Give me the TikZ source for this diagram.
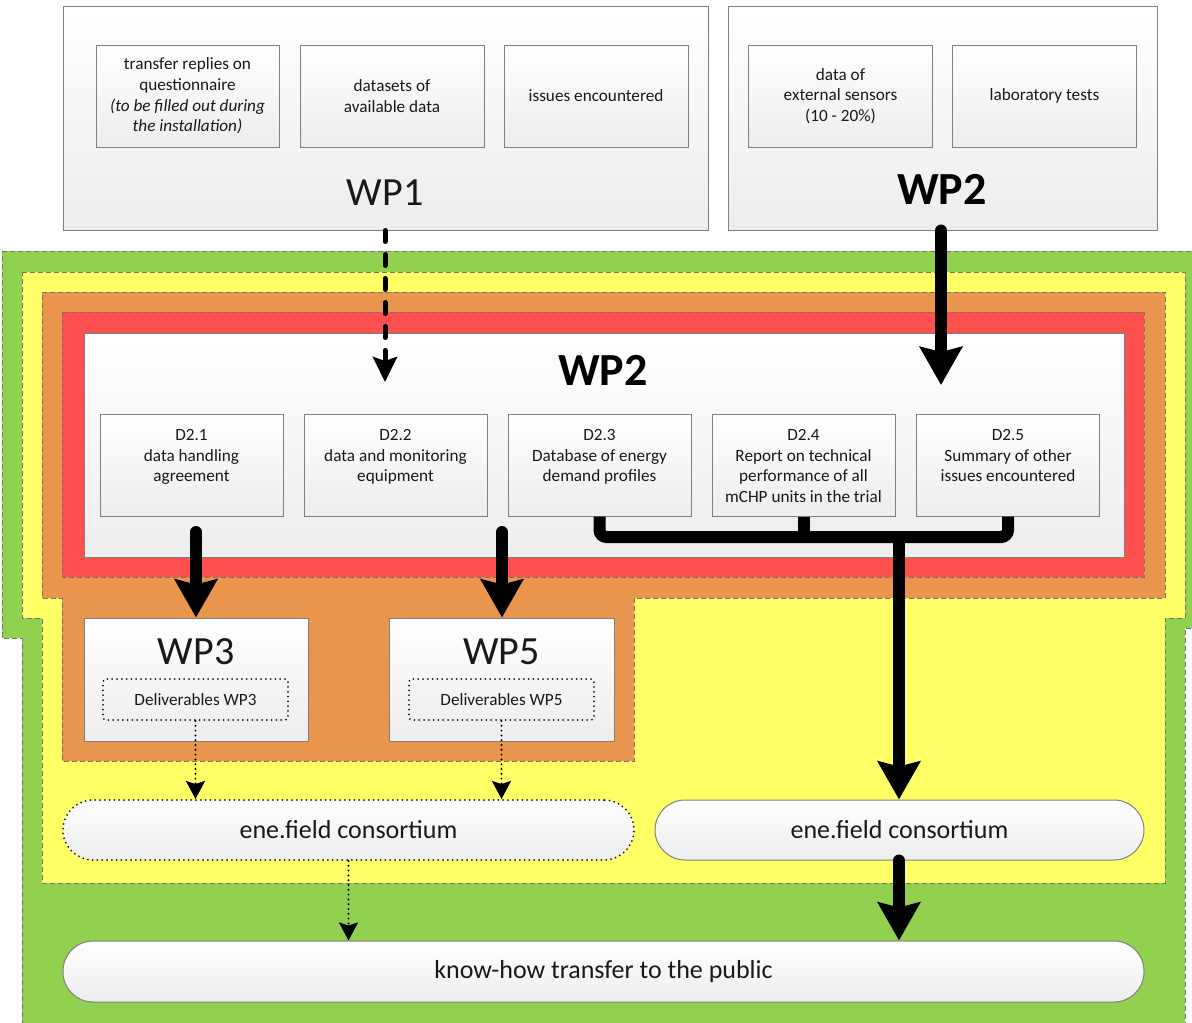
\documentclass[tikz,border=0pt]{standalone}
\usepackage{fontspec}
\setmainfont{Carlito}
\usetikzlibrary{arrows.meta}
\definecolor{cgreen}{RGB}{146,208,80}
\definecolor{cyellow}{RGB}{255,255,102}
\definecolor{corange}{RGB}{233,149,78}
\definecolor{cred}{RGB}{255,80,80}
\definecolor{ctext}{RGB}{25,25,25}
\begin{document}
\begin{tikzpicture}[x=1pt,y=-1pt,
  region/.style={draw=black!55, line width=0.9pt, dash pattern=on 5pt off 3pt},
  box/.style={draw=black!50, line width=1pt, top color=white, bottom color=black!7, inner sep=0pt, text=ctext},
  smalltxt/.style={font=\fontsize{17.2}{20.7}\selectfont, align=center, text=ctext, inner sep=0pt},
  bigtitle/.style={font=\fontsize{40}{44}\selectfont, text=ctext, inner sep=0pt},
  boldtitle/.style={font=\fontsize{46}{50}\selectfont\bfseries, text=black, inner sep=0pt},
  dbox/.style={box, minimum width=183pt, minimum height=102pt},
  pill/.style={box, rounded corners=30pt, minimum height=60pt},
  delbox/.style={draw=ctext, line width=2pt, dash pattern=on 0pt off 4.8pt, line cap=round, rounded corners=3pt, minimum width=185pt, minimum height=41pt, inner sep=0pt, font=\fontsize{17.2}{20}\selectfont, text=ctext},
  bigarrow/.style={draw=black, line width=12pt, line cap=round, -{Stealth[length=38pt,width=42pt,inset=5pt]}},
  dasharrow/.style={draw=black, line width=5pt, line cap=round, dash pattern=on 11pt off 13pt, -{Stealth[length=25pt,width=24pt,inset=4pt]}},
  dotarrow/.style={draw=black, line width=2.2pt, line cap=round, dash pattern=on 0pt off 4.8pt, -{Stealth[length=18pt,width=19pt,inset=3pt]}}
]
\useasboundingbox (0,0) rectangle (1192,1023);
\clip (0,0) rectangle (1192,1023);
\fill[white] (0,0) rectangle (1192,1023);

% coloured regions
\path[region, fill=cgreen] (2,251) -- (1200,251) -- (1200,628) -- (1185,628) -- (1185,1030) -- (22,1030) -- (22,638) -- (2,638) -- cycle;
\path[region, fill=cyellow] (22,272) -- (1185,272) -- (1185,618) -- (1165,618) -- (1165,883) -- (42,883) -- (42,618) -- (22,618) -- cycle;
\path[region, fill=corange] (42,292) -- (1165,292) -- (1165,598) -- (634,598) -- (634,761) -- (62,761) -- (62,598) -- (42,598) -- cycle;
\path[region, fill=cred] (62,312) rectangle (1144,577);

% top WP1 box
\node[box, minimum width=645pt, minimum height=224pt] (wp1) at (385.5,118) {};
\node[bigtitle] (wp1l) at (385,193) {WP1};
\node[box, minimum width=183pt, minimum height=102pt, smalltxt] (q1) at (187.5,96)
  {transfer replies on\\questionnaire\\{\itshape (to be filled out during}\\{\itshape the installation)}};
\node[box, minimum width=184pt, minimum height=102pt, smalltxt] (q2) at (392,96) {datasets of\\available data};
\node[box, minimum width=184pt, minimum height=102pt, smalltxt] (q3) at (596,96) {issues encountered};

% top WP2 box
\node[box, minimum width=429pt, minimum height=224pt] (wp2t) at (942.5,118) {};
\node[boldtitle] (wp2tl) at (942,189) {WP2};
\node[box, minimum width=184pt, minimum height=102pt, smalltxt] (s1) at (840.5,96) {data of\\external sensors\\(10 - 20\%)};
\node[box, minimum width=184pt, minimum height=102pt, smalltxt] (s2) at (1044.5,96) {laboratory tests};

% main WP2 box
\node[box, minimum width=1040pt, minimum height=224pt] (wp2) at (604,445) {};
\node[boldtitle] (wp2l) at (603,370) {WP2};
\node[dbox] (d21) at (191.5,465) {};
\node[dbox] (d22) at (395.5,465) {};
\node[dbox] (d23) at (599.5,465) {};
\node[dbox] (d24) at (803.5,465) {};
\node[dbox] (d25) at (1008,465) {};
\node[smalltxt, anchor=north] (d21t) at (191.5,429) {D2.1\\data handling\\agreement};
\node[smalltxt, anchor=north] (d22t) at (395.5,429) {D2.2\\data and monitoring\\equipment};
\node[smalltxt, anchor=north] (d23t) at (599.5,429) {D2.3\\Database of energy\\demand profiles};
\node[smalltxt, anchor=north] (d24t) at (803.5,429) {D2.4\\Report on technical\\performance of all\\mCHP units in the trial};
\node[smalltxt, anchor=north] (d25t) at (1008,429) {D2.5\\Summary of other\\issues encountered};

% WP3 / WP5
\node[box, minimum width=224pt, minimum height=123pt] (wp3) at (196,679.5) {};
\node[bigtitle] (wp3l) at (196,652) {WP3};
\node[delbox] (del3) at (195.5,699.5) {Deliverables WP3};
\node[box, minimum width=225pt, minimum height=123pt] (wp5) at (501.5,679.5) {};
\node[bigtitle] (wp5l) at (501.5,652) {WP5};
\node[delbox] (del5) at (501.5,699.5) {Deliverables WP5};

% consortium pills
\node[pill, minimum width=571pt, draw=ctext, line width=2pt, dash pattern=on 0pt off 4.8pt, line cap=round, font=\fontsize{26}{30}\selectfont] (enel) at (348.5,830) {ene.field consortium};
\node[pill, minimum width=489pt, font=\fontsize{26}{30}\selectfont] (ener) at (899.5,830) {ene.field consortium};
\node[pill, minimum width=1081pt, minimum height=61pt, font=\fontsize{26}{30}\selectfont] (know) at (603.5,971.5) {know-how transfer to the public};

% connectors
\coordinate (wp1in) at (385,382);
\coordinate (wp2in) at (941,385);
\draw[dasharrow] (wp1.south -| wp1in) -- (wp1in);
\draw[bigarrow] (wp2t.south -| wp2in) -- (wp2in);

\coordinate (a1) at (196,532);
\coordinate (a2) at (502,532);
\draw[bigarrow] (a1) -- (wp3.north);
\draw[bigarrow] (a2) -- (a2 |- wp5.north);

\coordinate (brk) at (899,537);
\draw[black, line width=12pt, rounded corners=7pt] (d23.south) -- (d23.south |- brk) -- (d25.south |- brk) -- (d25.south);
\draw[black, line width=12pt] (d24.south) -- (d24.south |- brk);
\draw[draw=black, line width=12pt, -{Stealth[length=38pt,width=42pt,inset=5pt]}] (brk) -- (brk |- ener.north);
\draw[bigarrow] (ener.south -| brk) -- (brk |- know.north);

\draw[dotarrow] (del3.south) -- (del3.south |- enel.north);
\draw[dotarrow] (del5.south) -- (del5.south |- enel.north);
\draw[dotarrow] (enel.south) -- (enel.south |- know.north);
\end{tikzpicture}
\end{document}
